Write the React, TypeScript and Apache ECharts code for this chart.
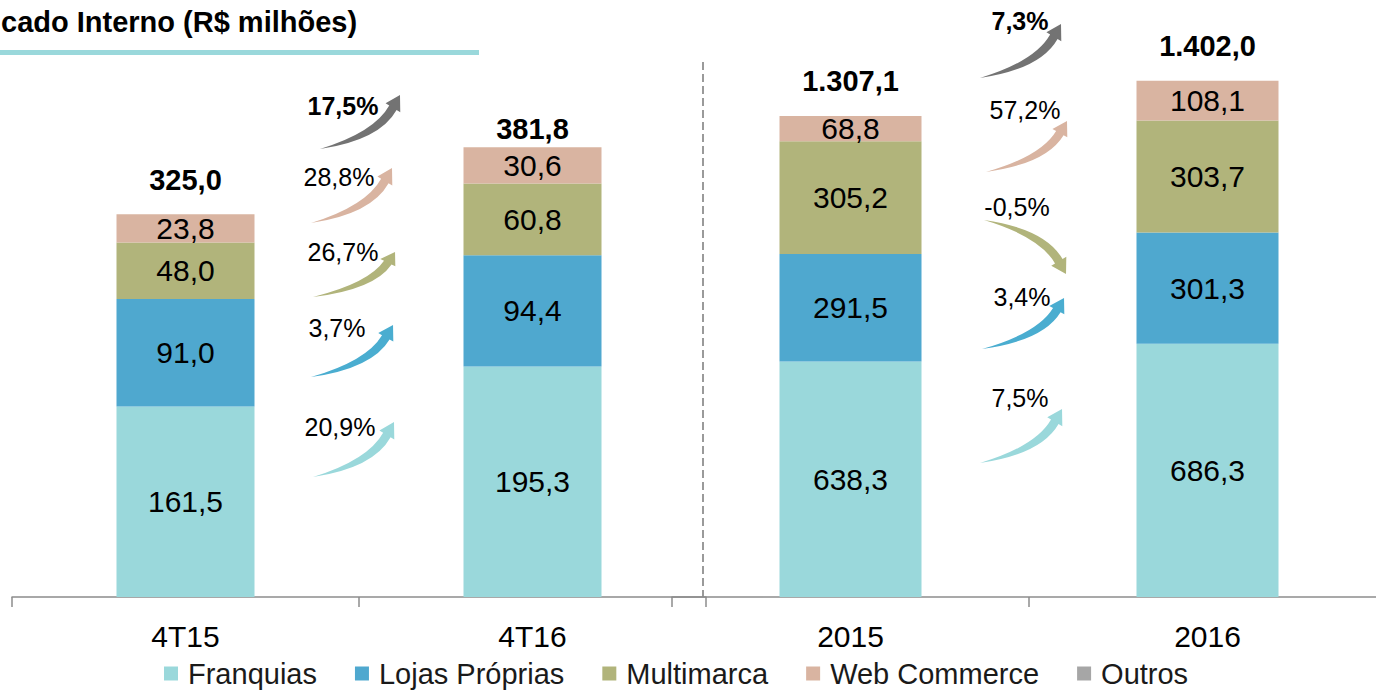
import React, { useEffect, useRef } from 'react';
import * as echarts from 'echarts';

// ---------- data ----------
const quarterCategories = ['4T15', '4T16'];
const yearCategories = ['2015', '2016'];
const legendNames = ['Franquias', 'Lojas Próprias', 'Multimarca', 'Web Commerce', 'Outros'];

const franquiasQ = [161.5, 195.3];
const lojasQ = [91.0, 94.4];
const multimarcaQ = [48.0, 60.8];
const webQ = [23.8, 30.6];
const outrosQ = [0, 0];
const totalQ = [325.0, 381.8];

const franquiasY = [638.3, 686.3];
const lojasY = [291.5, 301.3];
const multimarcaY = [305.2, 303.7];
const webY = [68.8, 108.1];
const outrosY = [0, 0];
const totalY = [1307.1, 1402.0];

// growth (%), order: Total, Web Commerce, Multimarca, Lojas Próprias, Franquias
const growthQ = [17.5, 28.8, 26.7, 3.7, 20.9];
const growthY = [7.3, 57.2, -0.5, 3.4, 7.5];

const titleText = 'cado Interno (R$ milhões)';

// ---------- styles / layout ----------
const FONT = "'Liberation Sans', Arial, Helvetica, sans-serif";
const COLORS = ['#9AD8DB', '#4FA8CF', '#B1B47B', '#D9B4A1', '#A6A6A6'];
const ARROW_COLORS = ['#737373', '#D9B4A1', '#B1B47B', '#4AADD0', '#9AD8DB'];
const totalGapQ = [20, 4];
const totalGapY = [20, 20];

// arrow annotation placement: tail point and tip point (pixels)
const arrowLayoutQ = [
  { tx: 320, ty: 149, hx: 400, hy: 95 },
  { tx: 311, ty: 223, hx: 392, hy: 168 },
  { tx: 313, ty: 297, hx: 395, hy: 252 },
  { tx: 311, ty: 377, hx: 393, hy: 325 },
  { tx: 313, ty: 477, hx: 394, hy: 422 },
];
const arrowLayoutY = [
  { tx: 980, ty: 78, hx: 1061, hy: 24 },
  { tx: 986, ty: 172, hx: 1067, hy: 121 },
  { tx: 984, ty: 220, hx: 1066, hy: 274 },
  { tx: 982, ty: 349, hx: 1064, hy: 298 },
  { tx: 980, ty: 463, hx: 1062, hy: 409 },
];
const pctPosQ = [
  { x: 343, y: 106 },
  { x: 339, y: 177 },
  { x: 343, y: 252 },
  { x: 337, y: 328 },
  { x: 340, y: 427 },
];
const pctPosY = [
  { x: 1020, y: 21 },
  { x: 1025, y: 110 },
  { x: 1017, y: 207 },
  { x: 1022, y: 297 },
  { x: 1020, y: 398 },
];

const ARROW_PATH =
  'M0 55 Q63.5 46 81.4 15.25 L85.3 17.5 L85 0 L69.7 8.5 L73.6 10.75 Q57.8 38 0 55 Z';
let registered = false;
function registerArrow() {
  if (registered) return;
  echarts.graphic.registerShape('growthArrow', echarts.graphic.extendPath(ARROW_PATH, {}));
  registered = true;
}

function fmtNum(v: number): string {
  const s = v.toFixed(1);
  const [intPart, dec] = s.split('.');
  const withDots = intPart.replace(/\B(?=(\d{3})+(?!\d))/g, '.');
  return withDots + ',' + dec;
}
function fmtPct(v: number): string {
  return v.toFixed(1).replace('.', ',') + '%';
}

function segSeries(name: string, data: number[], color: string, axis: number, stack: string, barWidth: number, showLabel: boolean) {
  return {
    name,
    type: 'bar',
    stack,
    xAxisIndex: axis,
    yAxisIndex: axis,
    barWidth,
    data,
    itemStyle: { color },
    label: {
      show: showLabel,
      position: 'inside',
      fontSize: 30,
      fontFamily: FONT,
      color: '#000',
      formatter: (p: any) => fmtNum(p.value),
    },
  };
}

function totalSeries(totals: number[], gaps: number[], axis: number, stack: string, barWidth: number) {
  return {
    name: 'Total',
    type: 'bar',
    stack,
    xAxisIndex: axis,
    yAxisIndex: axis,
    barWidth,
    silent: true,
    itemStyle: { color: 'rgba(0,0,0,0)' },
    data: totals.map((_, i) => ({ value: 0, label: { distance: gaps[i] } })),
    label: {
      show: true,
      position: 'top',
      fontSize: 29,
      fontWeight: 'bold',
      fontFamily: FONT,
      color: '#000',
      formatter: (p: any) => fmtNum(totals[p.dataIndex]),
    },
  };
}

function xAxisDef(grid: number, data: string[]) {
  return {
    type: 'category',
    gridIndex: grid,
    data,
    axisLine: { lineStyle: { color: '#8c8c8c', width: 1.5 } },
    axisTick: { show: true, length: 10, lineStyle: { color: '#8c8c8c', width: 1.5 } },
    axisLabel: { fontSize: 30, color: '#000', margin: 24, fontFamily: FONT },
    splitLine: { show: false },
  };
}

export default function App() {
  const ref = useRef<HTMLDivElement>(null);
  useEffect(() => {
    if (!ref.current) return;
    registerArrow();
    const chart = echarts.init(ref.current, undefined, { renderer: 'svg' });

    const graphics: any[] = [
      {
        type: 'text',
        x: 1,
        y: 22,
        style: { text: titleText, fontSize: 29, fontWeight: 'bold', fontFamily: FONT, fill: '#000', align: 'left', verticalAlign: 'middle' },
      },
      { type: 'rect', shape: { x: 0, y: 50, width: 479, height: 5 }, style: { fill: '#9AD8DB' } },
      {
        type: 'line',
        shape: { x1: 703, y1: 62, x2: 703, y2: 597 },
        style: { stroke: '#9a9a9a', lineWidth: 2, lineDash: [8, 4] },
      },
    ];
    const addArrows = (layout: any[], pcts: number[], pos: any[]) => {
      layout.forEach((a, i) => {
        graphics.push({
          type: 'growthArrow',
          x: a.tx,
          y: a.hy,
          scaleX: (a.hx - a.tx) / 85,
          scaleY: (a.ty - a.hy) / 55,
          style: { fill: ARROW_COLORS[i] },
        });
        graphics.push({
          type: 'text',
          x: pos[i].x,
          y: pos[i].y,
          z: 10,
          style: {
            text: fmtPct(pcts[i]),
            fontSize: 25,
            fontWeight: i === 0 ? 'bold' : 'normal',
            fontFamily: FONT,
            fill: '#000',
            align: 'center',
            verticalAlign: 'middle',
          },
        });
      });
    };
    addArrows(arrowLayoutQ, growthQ, pctPosQ);
    addArrows(arrowLayoutY, growthY, pctPosY);

    const option: any = {
      animation: false,
      backgroundColor: '#fff',
      legend: {
        data: legendNames,
        left: 164,
        top: 659,
        padding: 0,
        icon: 'rect',
        itemWidth: 14,
        itemHeight: 14,
        itemGap: 38,
        textStyle: { fontSize: 29, color: '#1a1a1a', fontFamily: FONT, padding: [0, 0, 0, 5] },
      },
      grid: [
        { left: 12, width: 694, top: 66, bottom: 93 },
        { left: 672, width: 714, top: 62, bottom: 93 },
      ],
      xAxis: [xAxisDef(0, quarterCategories), xAxisDef(1, yearCategories)],
      yAxis: [
        { type: 'value', gridIndex: 0, min: 0, max: 450, show: false, splitLine: { show: false } },
        { type: 'value', gridIndex: 1, min: 0, max: 1450, show: false, splitLine: { show: false } },
      ],
      series: [
        segSeries('Franquias', franquiasQ, COLORS[0], 0, 'q', 138, true),
        segSeries('Lojas Próprias', lojasQ, COLORS[1], 0, 'q', 138, true),
        segSeries('Multimarca', multimarcaQ, COLORS[2], 0, 'q', 138, true),
        segSeries('Web Commerce', webQ, COLORS[3], 0, 'q', 138, true),
        segSeries('Outros', outrosQ, COLORS[4], 0, 'q', 138, false),
        totalSeries(totalQ, totalGapQ, 0, 'q', 138),
        segSeries('Franquias', franquiasY, COLORS[0], 1, 'y', 142, true),
        segSeries('Lojas Próprias', lojasY, COLORS[1], 1, 'y', 142, true),
        segSeries('Multimarca', multimarcaY, COLORS[2], 1, 'y', 142, true),
        segSeries('Web Commerce', webY, COLORS[3], 1, 'y', 142, true),
        segSeries('Outros', outrosY, COLORS[4], 1, 'y', 142, false),
        totalSeries(totalY, totalGapY, 1, 'y', 142),
      ],
      graphic: graphics,
    };
    chart.setOption(option);
    return () => chart.dispose();
  }, []);

  return (
    <div style={{ position: 'absolute', left: 0, top: 0, width: 1376, height: 690, overflow: 'hidden', background: '#fff' }}>
      <div ref={ref} style={{ position: 'absolute', left: 0, top: 0, width: 1400, height: 690 }} />
    </div>
  );
}
